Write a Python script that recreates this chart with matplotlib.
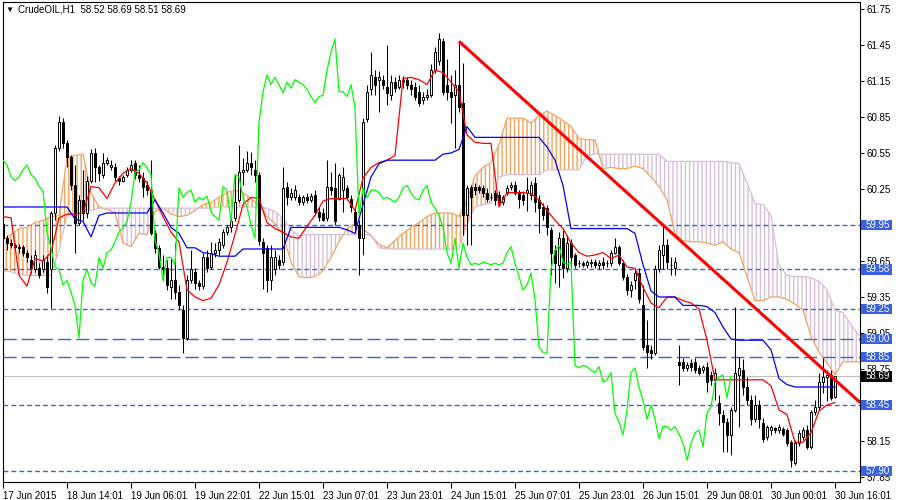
import numpy as np
import matplotlib
matplotlib.use("Agg")
import matplotlib.pyplot as plt
from matplotlib.patches import Rectangle

plt.rcParams['font.family'] = ['Liberation Sans', 'DejaVu Sans']
plt.rcParams['hatch.linewidth'] = 1.0

# hourly candles, 17 Jun 22:01 .. 30 Jun 16:01
opens = [59.96, 59.84, 59.80, 59.78, 59.77, 59.77, 59.72, 59.66, 59.58, 59.59,
         59.58, 59.64, 59.58, 60.05, 60.59, 60.81, 60.63, 60.52, 60.28, 59.97,
         60.16, 60.05, 60.32, 60.55, 60.43, 60.37, 60.47, 60.43, 60.43, 60.34,
         60.32, 60.37, 60.41, 60.47, 60.37, 60.34, 60.28, 60.24, 59.88, 59.76,
         59.60, 59.59, 59.43, 59.49, 59.39, 59.24, 59.01, 59.49, 59.56, 59.47,
         59.44, 59.68, 59.60, 59.72, 59.74, 59.78, 59.89, 59.93, 60.01, 60.16,
         60.39, 60.41, 60.47, 60.41, 60.37, 59.81, 59.76, 59.49, 59.58, 59.66,
         59.64, 60.27, 60.18, 60.18, 60.18, 60.14, 60.18, 60.16, 60.20, 60.06,
         60.05, 60.01, 60.27, 60.26, 60.17, 60.24, 60.26, 60.17, 60.06, 59.95,
         59.84, 60.83, 61.08, 61.18, 61.16, 61.16, 61.10, 61.03, 61.14, 61.10,
         61.16, 61.16, 61.12, 61.10, 61.06, 60.99, 61.02, 61.03, 61.24, 61.32,
         61.48, 61.12, 61.06, 61.03, 61.12, 60.97, 60.03, 60.27, 60.27, 60.27,
         60.26, 60.22, 60.18, 60.22, 60.20, 60.14, 60.22, 60.27, 60.28, 60.22,
         60.20, 60.22, 60.20, 60.30, 60.16, 60.10, 60.09, 59.91, 59.74, 59.62,
         59.84, 59.59, 59.80, 59.70, 59.63, 59.63, 59.62, 59.64, 59.64, 59.62,
         59.64, 59.63, 59.63, 59.72, 59.77, 59.63, 59.52, 59.41, 59.49, 59.55,
         59.28, 58.95, 58.91, 58.88, 59.58, 59.70, 59.78, 59.62, 59.59, 58.81,
         58.81, 58.76, 58.80, 58.81, 58.76, 58.74, 58.77, 58.70, 58.66, 58.47,
         58.37, 58.31, 58.20, 58.41, 58.70, 58.74, 58.60, 58.49, 58.33, 58.45,
         58.30, 58.18, 58.24, 58.26, 58.24, 58.25, 58.24, 58.14, 57.97, 58.13,
         58.18, 58.24, 58.10, 58.39, 58.43, 58.64, 58.68, 58.70, 58.52]
highs = [59.99, 59.87, 59.83, 59.80, 59.79, 59.78, 59.74, 59.70, 59.74, 59.63,
         59.70, 59.70, 60.07, 60.62, 60.86, 60.84, 60.66, 60.53, 60.45, 60.20,
         60.41, 60.36, 60.58, 60.59, 60.45, 60.55, 60.52, 60.49, 60.47, 60.36,
         60.37, 60.43, 60.49, 60.49, 60.45, 60.39, 60.32, 60.49, 59.91, 59.78,
         59.70, 59.66, 59.68, 59.80, 59.45, 59.28, 59.53, 59.74, 59.59, 59.49,
         59.72, 59.74, 59.81, 59.80, 59.84, 59.92, 59.95, 60.02, 60.37, 60.62,
         60.51, 60.57, 60.56, 60.49, 60.39, 59.84, 59.78, 59.78, 59.74, 59.70,
         60.43, 60.31, 60.26, 60.28, 60.21, 60.20, 60.22, 60.22, 60.24, 60.10,
         60.09, 60.49, 60.39, 60.47, 60.38, 60.43, 60.28, 60.20, 60.09, 59.99,
         60.84, 61.12, 61.39, 61.24, 61.23, 61.20, 61.45, 61.20, 61.18, 61.20,
         61.19, 61.18, 61.16, 61.14, 61.12, 61.06, 61.08, 61.29, 61.43, 61.55,
         61.51, 61.33, 61.20, 61.24, 61.48, 61.30, 60.28, 60.28, 60.30, 60.28,
         60.28, 60.26, 60.22, 60.24, 60.23, 60.20, 60.28, 60.31, 60.32, 60.24,
         60.23, 60.35, 60.32, 60.35, 60.20, 60.13, 60.12, 59.93, 59.78, 59.89,
         59.91, 59.87, 59.83, 59.72, 59.66, 59.65, 59.66, 59.67, 59.67, 59.66,
         59.68, 59.66, 59.74, 59.84, 59.78, 59.66, 59.54, 59.48, 59.58, 59.59,
         59.45, 59.16, 58.95, 59.62, 59.78, 59.95, 59.83, 59.68, 59.68, 58.95,
         58.84, 58.81, 58.83, 58.84, 58.78, 58.78, 58.81, 58.73, 58.76, 58.53,
         58.41, 58.34, 58.43, 59.27, 58.85, 58.83, 58.68, 58.53, 58.53, 58.49,
         58.34, 58.28, 58.28, 58.27, 58.29, 58.27, 58.26, 58.16, 58.16, 58.24,
         58.27, 58.28, 58.41, 58.49, 58.72, 58.84, 58.74, 58.74, 58.69]
lows = [59.77, 59.74, 59.76, 59.74, 59.72, 59.69, 59.64, 59.55, 59.56, 59.51,
        59.56, 59.38, 59.26, 59.99, 60.57, 60.59, 60.43, 60.24, 59.72, 59.95,
        59.99, 60.01, 60.30, 60.31, 60.32, 60.34, 60.45, 60.41, 60.32, 60.28,
        60.31, 60.35, 60.39, 60.33, 60.31, 60.18, 60.20, 59.87, 59.72, 59.58,
        59.49, 59.41, 59.33, 59.33, 59.24, 58.88, 58.99, 59.47, 59.42, 59.41,
        59.42, 59.56, 59.58, 59.68, 59.70, 59.76, 59.87, 59.89, 59.98, 60.14,
        60.28, 60.39, 60.37, 60.31, 59.78, 59.42, 59.39, 59.41, 59.53, 59.58,
        59.62, 60.12, 60.16, 60.16, 60.12, 60.12, 60.13, 60.14, 60.03, 59.98,
        59.98, 59.98, 60.20, 59.95, 60.16, 60.06, 60.16, 60.06, 59.91, 59.53,
        59.70, 60.81, 61.03, 61.03, 60.89, 61.08, 60.95, 60.99, 61.06, 61.08,
        61.09, 61.08, 61.03, 60.99, 60.94, 60.96, 60.99, 61.02, 61.22, 61.28,
        61.03, 60.99, 60.80, 60.59, 60.89, 59.87, 59.78, 59.78, 60.20, 60.22,
        60.18, 60.14, 60.16, 60.12, 60.12, 60.12, 60.20, 60.24, 60.20, 60.09,
        60.12, 60.07, 60.16, 60.06, 59.88, 59.99, 59.87, 59.53, 59.47, 59.43,
        59.51, 59.56, 59.59, 59.59, 59.60, 59.60, 59.59, 59.60, 59.59, 59.58,
        59.58, 59.60, 59.61, 59.71, 59.62, 59.49, 59.37, 59.35, 59.42, 59.30,
        58.91, 58.76, 58.83, 58.87, 59.56, 59.58, 59.58, 59.53, 59.53, 58.62,
        58.73, 58.73, 58.73, 58.72, 58.70, 58.72, 58.56, 58.62, 58.49, 58.28,
        58.06, 58.06, 58.03, 58.39, 58.27, 58.53, 58.45, 58.28, 58.31, 58.26,
        58.14, 58.16, 58.20, 58.22, 58.22, 58.19, 58.11, 57.93, 57.95, 58.11,
        58.16, 58.08, 58.08, 58.37, 58.41, 58.55, 58.48, 58.49, 58.51]
closes = [59.84, 59.80, 59.78, 59.77, 59.76, 59.72, 59.68, 59.59, 59.70, 59.53,
          59.66, 59.43, 60.05, 60.59, 60.81, 60.63, 60.52, 60.28, 59.97, 60.16,
          60.05, 60.32, 60.55, 60.43, 60.38, 60.47, 60.49, 60.45, 60.35, 60.32,
          60.35, 60.41, 60.45, 60.37, 60.34, 60.27, 60.24, 59.88, 59.76, 59.60,
          59.58, 59.45, 59.49, 59.39, 59.28, 59.01, 59.49, 59.58, 59.47, 59.44,
          59.68, 59.59, 59.72, 59.74, 59.81, 59.89, 59.93, 59.98, 60.14, 60.39,
          60.41, 60.47, 60.43, 60.37, 59.82, 59.72, 59.49, 59.68, 59.68, 59.62,
          60.26, 60.18, 60.22, 60.24, 60.14, 60.18, 60.16, 60.19, 60.06, 60.02,
          59.99, 60.27, 60.24, 59.98, 60.37, 60.35, 60.18, 60.10, 59.95, 59.84,
          60.81, 61.06, 61.20, 61.12, 61.18, 61.12, 61.05, 61.14, 61.09, 61.16,
          61.14, 61.12, 61.08, 61.02, 60.97, 61.02, 61.03, 61.24, 61.39, 61.50,
          61.06, 61.06, 61.02, 61.12, 60.93, 60.03, 60.26, 60.18, 60.24, 60.24,
          60.22, 60.17, 60.18, 60.16, 60.14, 60.18, 60.26, 60.28, 60.22, 60.17,
          60.16, 60.24, 60.28, 60.14, 60.09, 60.03, 59.93, 59.72, 59.63, 59.84,
          59.59, 59.80, 59.68, 59.62, 59.63, 59.62, 59.64, 59.63, 59.62, 59.63,
          59.62, 59.63, 59.72, 59.77, 59.63, 59.52, 59.41, 59.45, 59.55, 59.33,
          58.93, 58.89, 58.88, 59.58, 59.74, 59.78, 59.64, 59.62, 59.64, 58.78,
          58.76, 58.78, 58.77, 58.74, 58.72, 58.77, 58.64, 58.66, 58.72, 58.38,
          58.31, 58.20, 58.41, 58.72, 58.76, 58.60, 58.49, 58.33, 58.45, 58.33,
          58.17, 58.27, 58.27, 58.24, 58.27, 58.21, 58.13, 57.99, 58.13, 58.22,
          58.24, 58.10, 58.39, 58.43, 58.64, 58.68, 58.70, 58.51, 58.69]

# Ichimoku lines, read every second bar
tenkan = [60.02, 60.01, 59.53, 59.44, 59.67, 59.65, 59.72, 60.01, 60.04, 60.04,
          60.05, 60.27, 60.26, 60.17, 60.30, 60.38, 60.42, 60.38, 60.30, 60.16,
          60.02, 59.89, 59.81, 59.41, 59.35, 59.32, 59.34, 59.45, 59.64, 59.87,
          60.12, 60.18, 60.17, 59.97, 59.92, 59.89, 59.85, 59.84, 59.94, 60.03,
          60.15, 60.17, 60.17, 60.17, 60.07, 60.34, 60.43, 60.47, 60.49, 60.53,
          61.17, 61.18, 61.16, 61.12, 61.24, 61.22, 61.14, 61.06, 60.70, 60.64,
          60.63, 60.63, 60.10, 60.22, 60.22, 60.22, 60.21, 60.16, 60.07, 59.99,
          59.92, 59.80, 59.72, 59.69, 59.70, 59.72, 59.67, 59.70, 59.60, 59.59,
          59.43, 59.30, 59.26, 59.35, 59.35, 59.32, 59.30, 59.25, 58.99, 58.66,
          58.66, 58.66, 58.66, 58.66, 58.66, 58.66, 58.61, 58.41, 58.37, 58.14,
          58.14, 58.22, 58.40, 58.45, 58.47]
kijun = [60.10, 60.10, 60.10, 60.10, 60.10, 60.10, 60.10, 60.10, 60.10, 60.00,
         59.98, 59.85, 60.03, 60.05, 60.05, 60.05, 60.05, 60.05, 60.05, 60.16,
         60.05, 59.93, 59.88, 59.76, 59.76, 59.72, 59.71, 59.69, 59.69, 59.69,
         59.75, 59.75, 59.75, 59.75, 59.75, 59.75, 59.93, 59.93, 59.93, 59.93,
         59.93, 59.93, 59.93, 59.91, 59.88, 60.12, 60.35, 60.46, 60.49, 60.49,
         60.49, 60.49, 60.49, 60.49, 60.49, 60.54, 60.55, 60.58, 60.77, 60.68,
         60.68, 60.68, 60.68, 60.68, 60.68, 60.68, 60.68, 60.68, 60.60, 60.49,
         60.28, 59.92, 59.92, 59.92, 59.92, 59.92, 59.92, 59.92, 59.92, 59.88,
         59.62, 59.40, 59.35, 59.35, 59.35, 59.28, 59.28, 59.28, 59.27, 59.22,
         59.10, 59.00, 58.99, 58.99, 58.99, 58.99, 58.91, 58.67, 58.62, 58.60,
         58.60, 58.60, 58.60, 58.60, 58.60]
senkou_a = [59.83, 59.87, 59.92, 59.93, 59.97, 59.99, 60.02, 60.03, 60.51, 60.53,
            60.54, 60.22, 60.10, 60.08, 60.05, 59.80, 59.77, 59.88, 59.87, 60.06,
            60.09, 60.04, 60.02, 60.03, 60.07, 60.12, 60.14, 60.18, 60.22, 60.24,
            60.22, 60.17, 60.12, 60.02, 59.96, 59.87, 59.64, 59.52, 59.51, 59.52,
            59.57, 59.68, 59.81, 59.92, 59.96, 59.92, 59.86, 59.79, 59.76, 59.82,
            59.88, 59.93, 59.97, 60.02, 60.05, 60.05, 60.05, 60.02, 60.16, 60.36,
            60.43, 60.47, 60.62, 60.84, 60.84, 60.84, 60.80, 60.86, 60.90, 60.86,
            60.82, 60.77, 60.67, 60.66, 60.66, 60.42, 60.43, 60.42, 60.42, 60.44,
            60.42, 60.35, 60.27, 60.16, 59.88, 59.82, 59.81, 59.81, 59.80, 59.78,
            59.81, 59.75, 59.72, 59.52, 59.32, 59.32, 59.35, 59.35, 59.33, 59.29,
            59.24, 59.02, 58.89, 58.80, 58.70, 58.81, 58.81, 58.81]
senkou_b = [59.57, 59.56, 59.54, 59.53, 59.53, 59.53, 59.53, 59.74, 60.03, 60.05,
            60.06, 60.07, 60.09, 60.09, 60.09, 60.09, 60.09, 60.09, 60.09, 60.09,
            60.09, 60.09, 60.09, 60.09, 60.09, 60.09, 60.09, 60.10, 60.10, 60.10,
            60.10, 60.10, 60.10, 60.09, 60.06, 60.01, 59.91, 59.86, 59.87, 59.87,
            59.87, 59.87, 59.87, 59.87, 59.87, 59.87, 59.87, 59.76, 59.75, 59.75,
            59.75, 59.75, 59.75, 59.75, 59.75, 59.75, 59.75, 59.75, 59.95, 60.10,
            60.12, 60.13, 60.35, 60.37, 60.37, 60.37, 60.37, 60.37, 60.41, 60.41,
            60.41, 60.41, 60.41, 60.53, 60.54, 60.54, 60.54, 60.54, 60.54, 60.54,
            60.54, 60.54, 60.54, 60.48, 60.48, 60.48, 60.48, 60.48, 60.48, 60.48,
            60.48, 60.47, 60.46, 60.30, 60.13, 60.12, 60.03, 59.61, 59.53, 59.52,
            59.52, 59.51, 59.48, 59.41, 59.24, 59.22, 59.12, 59.03]

time_labels = ['17 Jun 2015', '18 Jun 14:01', '19 Jun 06:01', '19 Jun 22:01',
               '22 Jun 15:01', '23 Jun 07:01', '23 Jun 23:01', '24 Jun 15:01',
               '25 Jun 07:01', '25 Jun 23:01', '26 Jun 15:01', '29 Jun 08:01',
               '30 Jun 00:01', '30 Jun 16:01']
price_ticks = [61.75, 61.45, 61.15, 60.85, 60.55, 60.25, 59.95, 59.65, 59.35,
               59.05, 58.75, 58.45, 58.15, 57.85]
dot_levels = [59.95, 59.58, 59.25, 58.45, 57.90]
dash_levels = [59.00, 58.85]
bid = 58.69
trend_bars = [114, 214.3]
trend_prices = [61.48, 58.47]

LEVEL_BLUE = '#3A62E0'

fig = plt.figure(figsize=(9, 5), dpi=100)
ax = fig.add_axes([2.7 / 900, 17.7 / 500, 856.8 / 900, 480.3 / 500])

bars = np.arange(len(closes))
o = np.array(opens)
c = np.array(closes)
up = c >= o

# cloud
g = np.arange(0, 2 * len(senkou_a), 2)
sa = np.array(senkou_a)
sb = np.array(senkou_b)
ax.fill_between(g, sa, sb, where=sa >= sb, interpolate=True, facecolor='none',
                edgecolor='#F4A460', hatch='||||', linewidth=0, zorder=1)
ax.fill_between(g, sa, sb, where=sa < sb, interpolate=True, facecolor='none',
                edgecolor='#D8BFD8', hatch='||||', linewidth=0, zorder=1)
ax.plot(g, sa, color='#F4A460', lw=0.9, zorder=2)
ax.plot(g, sb, color='#D8BFD8', lw=0.9, zorder=2)

# levels
for v in dot_levels:
    ax.axhline(v, color=LEVEL_BLUE, lw=1.0, ls=(0, (3.5, 2.2)), zorder=1.5)
for v in dash_levels:
    ax.axhline(v, color=LEVEL_BLUE, lw=1.0, ls=(0, (9.5, 3.6)), zorder=1.5)
ax.axhline(bid, color='#C0C0C0', lw=0.8, zorder=1.5)

# candles
ax.vlines(bars, lows, highs, color='black', lw=0.75, zorder=3)
ax.bar(bars[up], (c - o)[up], bottom=o[up], width=0.6, facecolor='white',
       edgecolor='black', lw=0.7, zorder=4)
ax.bar(bars[~up], (o - c)[~up], bottom=c[~up], width=0.6, facecolor='black',
       edgecolor='black', lw=0.7, zorder=4)

# tenkan / kijun / chikou
gt = np.arange(0, 2 * len(tenkan), 2)
ax.plot(gt, tenkan, color='#FF0000', lw=0.9, zorder=5)
ax.plot(gt, kijun, color='#0000FF', lw=0.9, zorder=5)
ax.plot(bars[:len(closes) - 26], closes[26:], color='#00FF00', lw=0.9, zorder=5)

# trend line
ax.plot(trend_bars, trend_prices, color='#FF0000', lw=2.2, zorder=6,
        solid_capstyle='butt')

ax.set_xlim(-0.075, 214.125)
ax.set_ylim(57.806, 61.808)

ax.yaxis.tick_right()
ax.set_yticks(price_ticks)
ax.set_yticklabels([f'{v:.2f}' for v in price_ticks])
ax.set_xticks(np.arange(0, 16 * len(time_labels), 16))
ax.set_xticklabels(time_labels)
for lab in ax.get_xticklabels():
    lab.set_horizontalalignment('left')
ax.tick_params(axis='y', direction='out', length=3, width=0.8, labelsize=7, pad=2)
ax.tick_params(axis='x', direction='out', length=4, width=0.8, labelsize=7, pad=2)
for s in ax.spines.values():
    s.set_linewidth(0.8)

# price boxes on the scale
ytr = ax.get_yaxis_transform()
box_w = 31 / 856.8
for v, face in [(v, LEVEL_BLUE) for v in dot_levels + dash_levels] + [(bid, 'black')]:
    ax.add_patch(Rectangle((1.0018, v - 0.045), box_w, 0.09, transform=ytr,
                           facecolor=face, edgecolor='none', clip_on=False, zorder=20))
    ax.text(1.0075, v, f'{v:.2f}', transform=ytr, color='white', fontsize=7,
            va='center', ha='left', clip_on=False, zorder=21)

fig.text(5 / 900, 1 - 10.5 / 500, '\u25bc', fontsize=6, va='center', ha='left')
fig.text(18 / 900, 1 - 10 / 500, 'CrudeOIL,H1  58.52 58.69 58.51 58.69',
         fontsize=7, va='center', ha='left')

fig.savefig('out.png', dpi=100)
